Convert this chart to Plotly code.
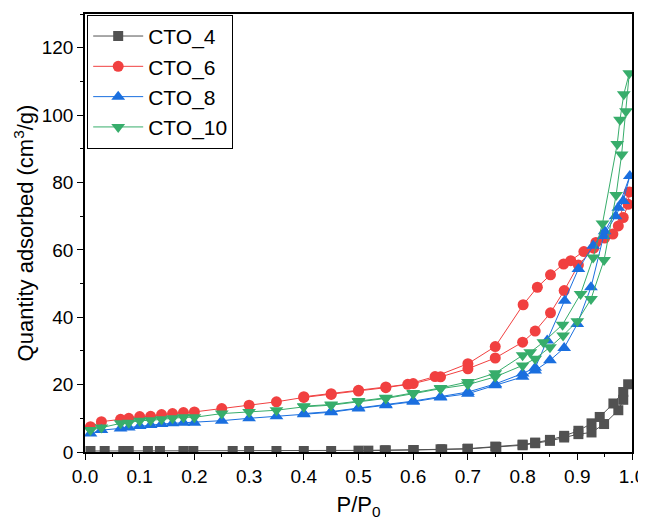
import plotly.graph_objects as go

# ---------------- data ----------------
names = ["CTO_4", "CTO_6", "CTO_8", "CTO_10"]

p_cto4 = [0.01, 0.036, 0.07, 0.08, 0.115, 0.137, 0.18, 0.198, 0.27, 0.30, 0.35, 0.40, 0.45,
          0.518, 0.548, 0.601, 0.653, 0.699, 0.752, 0.80, 0.823, 0.85, 0.876, 0.902, 0.926,
          0.949, 0.975, 0.984, 0.993,
          0.984, 0.966, 0.941, 0.926, 0.902, 0.876, 0.85, 0.823, 0.80, 0.75, 0.70, 0.65, 0.60, 0.55, 0.50]
q_cto4 = [0.3, 0.3, 0.3, 0.3, 0.3, 0.3, 0.3, 0.3, 0.3, 0.3, 0.3, 0.3, 0.3,
          0.4, 0.5, 0.6, 0.8, 0.9, 1.5, 2.0, 2.6, 3.3, 4.3, 5.3, 5.8,
          8.3, 12.4, 15.5, 20.1,
          17.8, 14.4, 10.4, 8.5, 6.3, 4.8, 3.6, 2.8, 2.2, 1.6, 1.0, 0.8, 0.6, 0.5, 0.4]

p_cto6 = [0.01, 0.03, 0.065, 0.08, 0.1, 0.12, 0.14, 0.16, 0.18, 0.2, 0.25, 0.3, 0.35, 0.4, 0.45,
          0.5, 0.55, 0.6, 0.65, 0.7, 0.75, 0.8, 0.823, 0.851, 0.876, 0.902, 0.93, 0.95, 0.975,
          0.984, 0.993,
          0.995, 0.965, 0.934, 0.912, 0.888, 0.875, 0.851, 0.827, 0.801, 0.75, 0.7, 0.64,
          0.59, 0.55, 0.5, 0.45, 0.4]
q_cto6 = [7.5, 9.0, 9.7, 10.0, 10.5, 10.6, 11.1, 11.4, 11.7, 11.9, 12.9, 13.9, 14.9, 16.2, 17.1,
          18.1, 19.1, 20.3, 22.3, 24.7, 27.9, 32.6, 35.9, 41.3, 47.9, 55.5, 60.5, 63.5, 67.1,
          69.6, 73.5,
          77.2, 64.7, 62.2, 59.5, 56.8, 55.8, 52.6, 48.9, 43.7, 31.3, 26.2, 22.4,
          20.1, 19.3, 18.3, 17.3, 16.4]

p_cto8 = [0.01, 0.03, 0.065, 0.08, 0.1, 0.12, 0.14, 0.16, 0.18, 0.2, 0.25, 0.3, 0.35, 0.4, 0.45,
          0.5, 0.55, 0.6, 0.65, 0.7, 0.75, 0.8, 0.823, 0.85, 0.876, 0.9, 0.925, 0.948, 0.97,
          0.984, 0.996,
          0.975, 0.95, 0.929, 0.902, 0.877, 0.845, 0.823, 0.8, 0.75, 0.7, 0.65, 0.6, 0.55,
          0.5, 0.45, 0.4]
q_cto8 = [5.5, 6.5, 7.0, 7.3, 7.7, 8.0, 8.3, 8.5, 8.7, 8.7, 9.3, 10.0, 10.6, 11.2, 11.8,
          12.9, 13.9, 14.9, 16.2, 17.3, 19.8, 22.3, 24.2, 27.2, 30.9, 38.0, 48.9, 64.1, 70.0,
          74.5, 81.9,
          72.5, 65.5, 61.2, 54.3, 44.9, 33.1, 25.0, 23.3, 20.2, 17.8, 16.4, 15.1, 14.1,
          13.1, 12.0, 11.4]

p_cto10 = [0.01, 0.03, 0.065, 0.08, 0.1, 0.12, 0.14, 0.16, 0.18, 0.2, 0.25, 0.3, 0.35, 0.4, 0.45,
           0.5, 0.55, 0.6, 0.65, 0.7, 0.75, 0.8, 0.823, 0.85, 0.874, 0.9, 0.925, 0.949, 0.971,
           0.981, 0.989, 0.995,
           0.985, 0.978, 0.973, 0.946, 0.929, 0.906, 0.873, 0.838, 0.814, 0.8, 0.75, 0.7,
           0.65, 0.6, 0.55, 0.5, 0.45, 0.4]
q_cto10 = [6.5, 7.3, 8.5, 8.7, 9.3, 9.4, 9.7, 10.0, 10.3, 10.3, 11.4, 11.9, 12.4, 13.4, 13.9,
           14.9, 15.9, 17.3, 18.8, 20.0, 22.3, 25.7, 27.7, 31.1, 34.6, 38.8, 45.4, 57.0, 76.3,
           88.3, 101.1, 112.4,
           106.2, 98.6, 91.4, 67.8, 57.7, 46.9, 37.8, 32.6, 29.6, 28.7, 23.4, 20.8,
           19.0, 17.5, 16.1, 15.1, 14.1, 13.6]

x_ticks = [0.0, 0.1, 0.2, 0.3, 0.4, 0.5, 0.6, 0.7, 0.8, 0.9, 1.0]
y_ticks = [0, 20, 40, 60, 80, 100, 120]

# ---------------- styling ----------------
colors = ["#515151", "#F14040", "#1A6FDF", "#37AD6B"]
symbols = ["square", "circle", "triangle-up", "triangle-down"]
sizes = [10, 11, 12, 12]
FONT = "Liberation Sans, Arial, sans-serif"

series = [(p_cto4, q_cto4), (p_cto6, q_cto6), (p_cto8, q_cto8), (p_cto10, q_cto10)]

fig = go.Figure()
for (px, qy), nm, c, s, sz in zip(series, names, colors, symbols, sizes):
    fig.add_trace(go.Scatter(
        x=px, y=qy, name=nm, mode="lines+markers",
        line=dict(color=c, width=1),
        marker=dict(symbol=s, size=sz, color=c, line=dict(width=0)),
    ))

axis_common = dict(
    showline=True, linecolor="black", linewidth=1.5, mirror=True,
    ticks="outside", ticklen=6, tickwidth=1.2, tickcolor="black",
    showgrid=False, zeroline=False,
    tickfont=dict(family=FONT, size=19, color="black"),
)

# the page body adds an 8px offset, so the figure is 8px smaller and margins shifted
fig.update_layout(
    width=638, height=512,
    paper_bgcolor="white", plot_bgcolor="white",
    margin=dict(l=77, r=14, t=6, b=68, autoexpand=False),
    font=dict(family=FONT, color="black"),
    xaxis=dict(
        range=[0, 1], tickvals=x_ticks, ticktext=[f"{v:.1f}" for v in x_ticks],
        minor=dict(ticks="outside", ticklen=3, tickwidth=1.2, dtick=0.05, tickcolor="black"),
        title=dict(text="P/P<sub>0</sub>", font=dict(family=FONT, size=22), standoff=16),
        **axis_common,
    ),
    yaxis=dict(
        range=[0, 130], tickvals=y_ticks,
        minor=dict(ticks="outside", ticklen=3, tickwidth=1.2, dtick=10, tickcolor="black"),
        title=dict(text="Quantity adsorbed (cm<sup>3</sup>/g)", font=dict(family=FONT, size=22), standoff=2),
        **axis_common,
    ),
    legend=dict(
        x=0.004, y=0.998, xanchor="left", yanchor="top",
        bgcolor="white", bordercolor="black", borderwidth=1,
        font=dict(family=FONT, size=21, color="black"),
        itemwidth=50, tracegroupgap=0,
    ),
    showlegend=True,
)

fig.write_html("out.html")
